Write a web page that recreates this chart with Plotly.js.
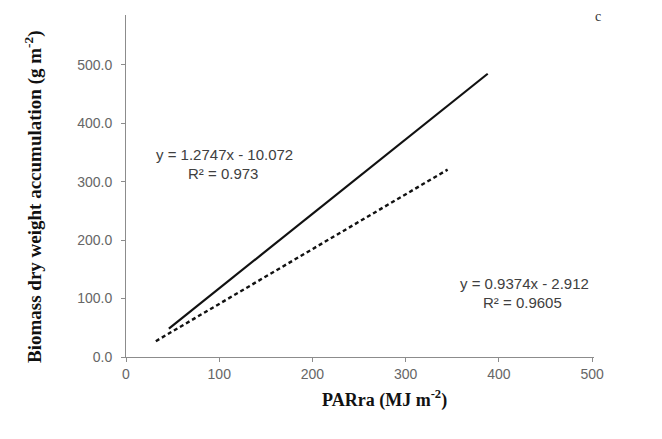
<!DOCTYPE html>
<html><head><meta charset="utf-8">
<script src="https://cdn.plot.ly/plotly-3.0.1.min.js"></script>
<style>html,body{margin:0;padding:0;background:#fff}</style>
</head><body>
<div id="chart" style="width:662px;height:439px"></div>
<script>
// Trendline endpoints
var solidX = [46, 388];
var solidY = [48.6, 484.5];
var dashX = [32, 345];
var dashY = [27.1, 320.5];
var xTicks = [0, 100, 200, 300, 400, 500];
var xTickText = ['0', '100', '200', '300', '400', '500'];
var yTicks = [0, 100, 200, 300, 400, 500];
var yTickText = ['0.0', '100.0', '200.0', '300.0', '400.0', '500.0'];
var eq1 = ['y = 1.2747x - 10.072', 'R\u00B2 = 0.973'];
var eq2 = ['y = 0.9374x - 2.912', 'R\u00B2 = 0.9605'];
var panelLabel = 'c';
var xTitle = 'PARra (MJ m<sup>-2</sup>)';
var yTitle = 'Biomass dry weight accumulation (g m<sup>-2</sup>)';

var traces = [
  {x: solidX, y: solidY, mode: 'lines', line: {color: '#111', width: 2.2, dash: 'solid'}, hoverinfo: 'skip'},
  {x: dashX, y: dashY, mode: 'lines', line: {color: '#111', width: 2.4, dash: '4px,3px'}, hoverinfo: 'skip'}
];

var annFont = {family: 'Liberation Sans, Arial, sans-serif', size: 15, color: '#404040'};
var titleFont = {family: 'Liberation Serif, Times New Roman, serif', size: 18, color: '#111', weight: 'bold'};
var tickFont = {family: 'Liberation Sans, Arial, sans-serif', size: 14, color: '#666666'};
var layout = {
  width: 662, height: 439,
  margin: {l: 126, r: 68, t: 15, b: 82},
  paper_bgcolor: '#fff', plot_bgcolor: '#fff',
  showlegend: false,
  xaxis: {
    range: [0, 502], tickvals: xTicks, ticktext: xTickText,
    showgrid: false, zeroline: false, showline: true, linecolor: '#8c8c8c', linewidth: 1,
    ticks: 'outside', ticklen: 4, tickcolor: '#8c8c8c', tickfont: tickFont
  },
  yaxis: {
    range: [0, 585], tickvals: yTicks, ticktext: yTickText,
    showgrid: false, zeroline: false, showline: true, linecolor: '#8c8c8c', linewidth: 1,
    ticks: 'outside', ticklen: 4, tickcolor: '#8c8c8c', tickfont: tickFont,
    ticklabelstandoff: 6
  },
  annotations: [
    {x: 224, y: 154, text: eq1[0], font: annFont},
    {x: 223, y: 173, text: eq1[1], font: annFont},
    {x: 524, y: 283, text: eq2[0], font: annFont},
    {x: 522, y: 302, text: eq2[1], font: annFont},
    {x: 598, y: 17, text: panelLabel, font: {family: 'Liberation Serif, serif', size: 14, color: '#333'}},
    {x: 384, y: 399, text: xTitle, font: titleFont},
    {x: 33, y: 197, text: yTitle, font: Object.assign({}, titleFont, {size: 19}), textangle: -90}
  ]
};
// convert pixel-positioned annotations to paper coordinates
var pl = 126, pw = 662 - 126 - 68, pt = 15, ph = 439 - 15 - 82;
layout.annotations.forEach(function (a) {
  a.showarrow = false;
  a.xref = 'paper'; a.yref = 'paper';
  a.x = (a.x - pl) / pw; a.y = 1 - (a.y - pt) / ph;
  a.xanchor = 'center'; a.yanchor = 'middle';
});
Plotly.newPlot('chart', traces, layout, {staticPlot: true, displayModeBar: false});
</script>
</body></html>
